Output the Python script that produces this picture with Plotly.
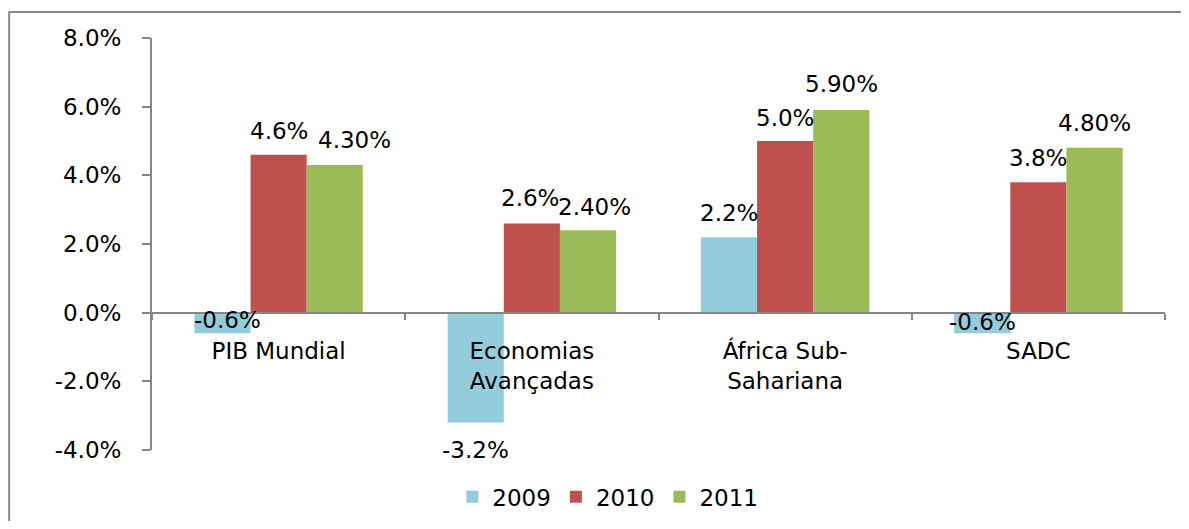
import plotly.graph_objects as go

categories = ["PIB Mundial", "Economias<br>Avançadas", "África Sub-<br>Sahariana", "SADC"]
years = ["2009", "2010", "2011"]
v2009 = [-0.6, -3.2, 2.2, -0.6]
v2010 = [4.6, 2.6, 5.0, 3.8]
v2011 = [4.3, 2.4, 5.9, 4.8]
series = [v2009, v2010, v2011]
label_decimals = [1, 1, 2]
y_ticks = [-4, -2, 0, 2, 4, 6, 8]

colors = ["#93CDDD", "#C0504D", "#9BBB59"]
FONT = "DejaVu Sans"
FS = 23
BARGAP = 0.335

# label offsets (pixels) relative to the bar end: (xshift, yshift)
label_shift = {
    (0, 0): (5, 13), (1, 0): (0, -27), (2, 0): (0, 24), (3, 0): (0, 11),
    (0, 1): (0, 24), (1, 1): (-2, 25), (2, 1): (0, 23), (3, 1): (0, 24),
    (0, 2): (20, 25), (1, 2): (6, 23), (2, 2): (0, 26), (3, 2): (0, 25),
}

fig = go.Figure()
for j, (yr, vals) in enumerate(zip(years, series)):
    fig.add_trace(go.Bar(x=categories, y=vals, name=yr, marker_color=colors[j],
                         marker_line_width=0))

w = (1 - BARGAP) / len(years)
annotations = []
for j, vals in enumerate(series):
    for i, v in enumerate(vals):
        xs, ys = label_shift[(i, j)]
        annotations.append(dict(
            x=i + (j - 1) * w, y=v, xref="x", yref="y",
            text=f"{v:.{label_decimals[j]}f}%", showarrow=False,
            xshift=xs, yshift=ys, yanchor="middle", xanchor="center",
            font=dict(family=FONT, size=FS, color="black")))

fig.update_layout(
    width=1173, height=513,
    margin=dict(l=144, r=16, t=30, b=71, autoexpand=False),
    plot_bgcolor="white", paper_bgcolor="white",
    barmode="group", bargap=BARGAP, bargroupgap=0,
    font=dict(family=FONT, size=FS, color="black"),
    annotations=annotations,
    legend=dict(orientation="h", x=0.45, xanchor="center",
                yref="container", y=0.047, yanchor="middle",
                font=dict(family=FONT, size=FS, color="black"), traceorder="normal"),
    shapes=[dict(type="rect", xref="paper", yref="paper",
                 x0=-0.141, x1=1.06, y0=-0.25, y1=1.063,
                 line=dict(color="#8a8a8a", width=2), layer="below")],
)
fig.update_yaxes(range=[-4, 8], tickvals=y_ticks, ticktext=[f"{t:.1f}%" for t in y_ticks],
                 showgrid=False, zeroline=False, showline=True, linecolor="#868686",
                 linewidth=2, ticks="outside", ticklen=8, tickwidth=2, tickcolor="#868686",
                 ticklabelstandoff=16, domain=[0, 1])
fig.update_xaxes(type="category", anchor="free", position=4 / 12, showline=True,
                 linecolor="#868686", linewidth=2, ticks="outside", tickson="boundaries",
                 ticklen=6, tickwidth=2, tickcolor="#868686", showgrid=False,
                 ticklabelstandoff=18)

fig.write_html("out.html")
